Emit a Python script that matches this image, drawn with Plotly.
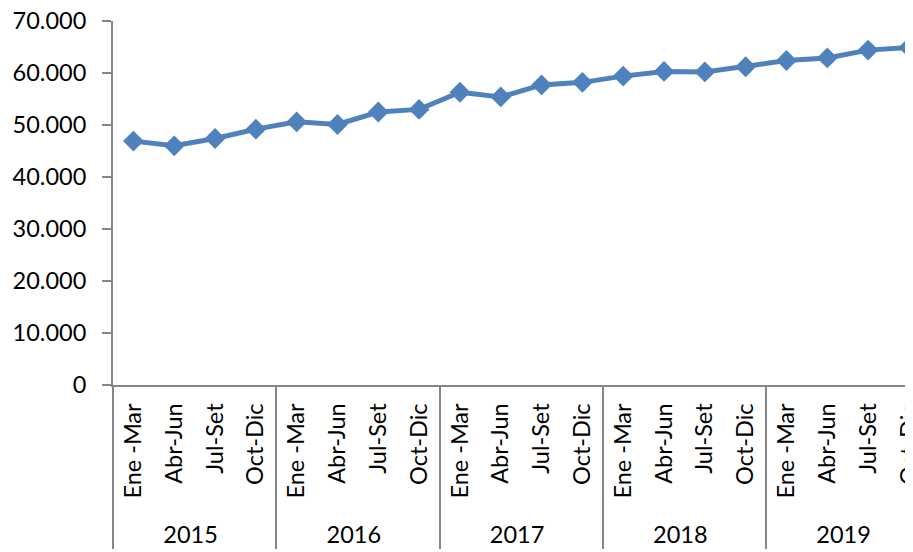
import plotly.graph_objects as go

years = ["2015", "2016", "2017", "2018", "2019"]
quarters = ["Ene -Mar", "Abr-Jun", "Jul-Set", "Oct-Dic"]
values = [
    46900, 46000, 47400, 49200,
    50600, 50100, 52500, 53000,
    56300, 55400, 57700, 58200,
    59400, 60300, 60200, 61200,
    62400, 62900, 64400, 64900,
]

x_years = [y for y in years for _ in quarters]
# a leading no-break space pushes the year row a little lower
x_quarters = ["\u00a0" + q for _ in years for q in quarters]

axis_grey = "#868686"
line_blue = "#4F81BD"

fig = go.Figure()
fig.add_trace(
    go.Scatter(
        x=[x_years, x_quarters],
        y=values,
        mode="lines+markers",
        line=dict(color=line_blue, width=5),
        marker=dict(symbol="diamond", size=16, color=line_blue),
        showlegend=False,
    )
)

# page body has an 8px margin, so size the figure to end at the window edge
fig.update_layout(
    width=905,
    height=544,
    margin=dict(l=105, r=0, t=13, b=167),
    paper_bgcolor="white",
    plot_bgcolor="white",
    separators=",.",
    font=dict(family="Lato", size=23.5, color="#000000"),
    xaxis=dict(
        type="multicategory",
        range=[-0.5, 19.1],
        automargin=False,
        ticklabeloverflow="allow",
        showline=True,
        linecolor=axis_grey,
        linewidth=2,
        tickangle=-90,
        ticklabelstandoff=7,
        showgrid=False,
        zeroline=False,
        showdividers=True,
        dividercolor=axis_grey,
        dividerwidth=2,
    ),
    yaxis=dict(
        range=[0, 70000],
        automargin=False,
        ticklabeloverflow="allow",
        tickvals=[0, 10000, 20000, 30000, 40000, 50000, 60000, 70000],
        tickformat=",d",
        showline=True,
        linecolor=axis_grey,
        linewidth=2,
        ticks="outside",
        ticklen=9,
        tickwidth=2,
        tickcolor=axis_grey,
        showgrid=False,
        zeroline=False,
        ticklabelstandoff=11,
    ),
)

fig.write_html("out.html")
